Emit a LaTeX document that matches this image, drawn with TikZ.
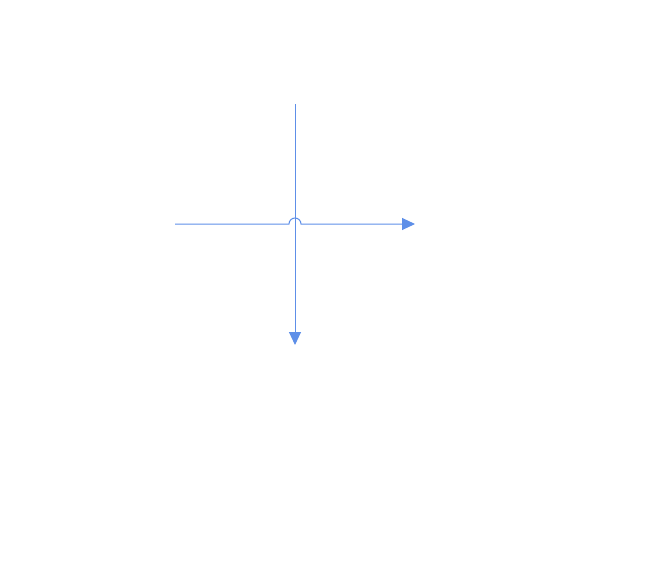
\documentclass[tikz,border=0pt]{standalone}
\usepackage{tikz}
\usetikzlibrary{arrows.meta}
\definecolor{linkblue}{RGB}{94,143,232}

\begin{document}
\begin{tikzpicture}[x=1pt,y=-1pt]
  \useasboundingbox (0,0) rectangle (646,568);

  \coordinate (west) at (175,224);
  \coordinate (east) at (415,224);
  \coordinate (north) at (295,104);
  \coordinate (south) at (295,345);
  \coordinate (hopl) at (289,224);

  \draw[linkblue, line width=1pt, -{Triangle[length=13pt,width=12pt]}] (north) -- (south);
  \draw[linkblue, line width=1pt, -{Triangle[length=13pt,width=12pt]}]
    (west) -- (hopl) arc[start angle=180, end angle=360, radius=6] -- (east);

\end{tikzpicture}
\end{document}
